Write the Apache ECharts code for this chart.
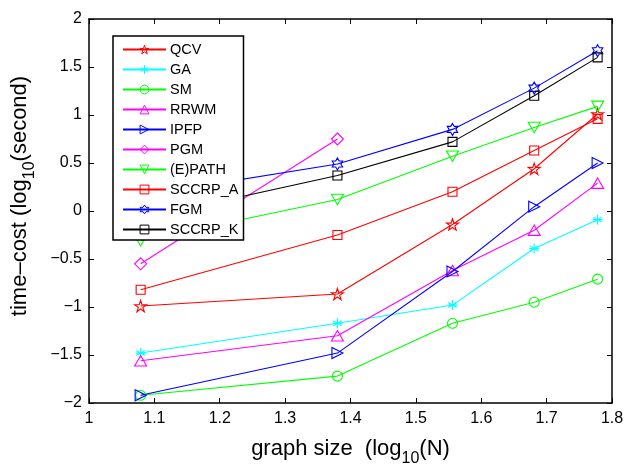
<!DOCTYPE html>
<html>
<head>
<meta charset="utf-8">
<script src="https://cdn.jsdelivr.net/npm/echarts@6/dist/echarts.min.js"></script>
<style>html,body{margin:0;padding:0;background:#fff}#c{width:624px;height:467px}</style>
</head>
<body>
<div id="c"></div>
<script>
// ---- data ----
var xValues = [1.079, 1.380, 1.556, 1.681, 1.778];
var seriesNames = ['QCV', 'GA', 'SM', 'RRWM', 'IPFP', 'PGM', '(E)PATH', 'SCCRP_A', 'FGM', 'SCCRP_K'];
var QCV     = [-0.99, -0.865, -0.14, 0.44, 1.01];
var GA      = [-1.48, -1.17, -0.98, -0.39, -0.09];
var SM      = [-1.92, -1.72, -1.17, -0.95, -0.71];
var RRWM    = [-1.56, -1.30, -0.62, -0.20, 0.29];
var IPFP    = [-1.92, -1.48, -0.63, 0.045, 0.50];
var PGM     = [-0.55, 0.75];
var EPATH   = [-0.31, 0.12, 0.57, 0.87, 1.09];
var SCCRP_A = [-0.82, -0.25, 0.20, 0.63, 0.96];
var FGM     = [0.16, 0.49, 0.85, 1.28, 1.67];
var SCCRP_K = [-0.08, 0.37, 0.72, 1.20, 1.60];
var xTicks = [1, 1.1, 1.2, 1.3, 1.4, 1.5, 1.6, 1.7, 1.8];
var yTicks = [-2, -1.5, -1, -0.5, 0, 0.5, 1, 1.5, 2];

// ---- marker shapes ----
function starPath(n, rOut, rIn) {
  var s = '';
  for (var i = 0; i < 2 * n; i++) {
    var r = i % 2 === 0 ? rOut : rIn;
    var a = -Math.PI / 2 + i * Math.PI / n;
    s += (i === 0 ? 'M' : 'L') + (r * Math.cos(a)).toFixed(3) + ',' + (r * Math.sin(a)).toFixed(3);
  }
  return 'path://' + s + 'Z';
}
var SYM = {
  penta: starPath(5, 1, 0.38),
  hexa: starPath(6, 1, 0.577),
  aster: 'path://M0,-1L0,1M-0.87,-0.5L0.87,0.5M-0.87,0.5L0.87,-0.5M-1,0L1,0',
  right: 'path://M0,0L1,0.5L0,1Z',
  down: 'path://M0,0L1,0L0.5,0.87Z',
  up: 'path://M0.5,0L1,0.87L0,0.87Z',
  diamond: 'path://M0.5,0L1,0.5L0.5,1L0,0.5Z',
  square: 'path://M0,0L1,0L1,1L0,1Z',
  circle: 'circle'
};

var FONT = 'Liberation Sans, Arial, Helvetica, sans-serif';
var HOLLOW = 'rgba(255,255,255,0)';

function mk(name, vals, color, symbol, size) {
  var d = [];
  for (var i = 0; i < vals.length; i++) d.push([xValues[i], vals[i]]);
  return {
    name: name, type: 'line', data: d,
    symbol: symbol, symbolSize: size, symbolKeepAspect: true,
    showAllSymbol: true, animation: false,
    lineStyle: { color: color, width: 1.1 },
    itemStyle: { color: HOLLOW, borderColor: color, borderWidth: 1.1 },
    emphasis: { disabled: true }
  };
}

var colors = ['#ff0000', '#00ffff', '#00ff00', '#ff00ff', '#0000ff', '#ff00ff', '#00ff00', '#ff0000', '#0000ff', '#000000'];
var series = [
  mk('QCV', QCV, colors[0], SYM.penta, 12),
  mk('GA', GA, colors[1], SYM.aster, 10),
  mk('SM', SM, colors[2], SYM.circle, 10),
  mk('RRWM', RRWM, colors[3], SYM.up, 12),
  mk('IPFP', IPFP, colors[4], SYM.right, 11),
  mk('PGM', PGM, colors[5], SYM.diamond, 12),
  mk('(E)PATH', EPATH, colors[6], SYM.down, 12),
  mk('SCCRP_A', SCCRP_A, colors[7], SYM.square, 9),
  mk('FGM', FGM, colors[8], SYM.hexa, 12),
  mk('SCCRP_K', SCCRP_K, colors[9], SYM.square, 9)
];

var legendData = seriesNames.map(function (n, i) {
  return { name: n, itemStyle: { color: HOLLOW, borderColor: colors[i], borderWidth: 1 } };
});

function fmt(v) {
  var s = String(Math.round(v * 10) / 10);
  return s.replace('-', '\u2212');
}

var axisLine = { show: true, onZero: false, lineStyle: { color: '#000', width: 1.5 } };
var tick = { show: true, inside: true, length: 5, lineStyle: { color: '#000', width: 1 } };
var nameRich = {
  a: { fontSize: 22, fontFamily: FONT, color: '#000', lineHeight: 36 },
  s: { fontSize: 16, fontFamily: FONT, color: '#000', lineHeight: 16, verticalAlign: 'bottom' }
};

var chart = echarts.init(document.getElementById('c'), null, { renderer: 'canvas' });
chart.setOption({
  backgroundColor: '#fff',
  animation: false,
  textStyle: { fontFamily: FONT },
  grid: { left: 89, right: 12, top: 19, bottom: 64, containLabel: false, outerBoundsMode: 'none' },
  legend: {
    data: legendData, orient: 'vertical', left: 113, top: 36,
    backgroundColor: '#fff', borderColor: '#000', borderWidth: 1.5,
    padding: [6, 5, 3, 9], itemWidth: 43, itemHeight: 11, itemGap: 5,
    textStyle: { fontFamily: FONT, fontSize: 14.5, color: '#000', padding: [0, 0, 0, -1] },
    selectedMode: false
  },
  xAxis: [{
    type: 'value', min: 1, max: 1.8, interval: 0.1,
    axisLine: axisLine, axisTick: tick, splitLine: { show: false },
    axisLabel: { color: '#000', fontSize: 16, fontFamily: FONT, margin: 8, formatter: fmt },
    name: '{a|graph size  (log}{s|10}{a|(N)}', nameLocation: 'middle', nameGap: 28,
    nameTextStyle: { rich: nameRich }
  }, {
    type: 'value', position: 'top', min: 1, max: 1.8, interval: 0.1,
    axisLine: axisLine, axisTick: tick, axisLabel: { show: false }, splitLine: { show: false }
  }],
  yAxis: [{
    type: 'value', min: -2, max: 2, interval: 0.5,
    axisLine: axisLine, axisTick: tick, splitLine: { show: false },
    axisLabel: { color: '#000', fontSize: 16, fontFamily: FONT, margin: 7, formatter: fmt },
    name: '{a|time\u2013cost (log}{s|10}{a|(second)}', nameLocation: 'middle', nameGap: 51,
    nameRotate: 90,
    nameTextStyle: { rich: nameRich, padding: [0, 0, 0, 30] }
  }, {
    type: 'value', position: 'right', min: -2, max: 2, interval: 0.5,
    axisLine: axisLine, axisTick: tick, axisLabel: { show: false }, splitLine: { show: false }
  }],
  series: series
});
</script>
</body>
</html>
